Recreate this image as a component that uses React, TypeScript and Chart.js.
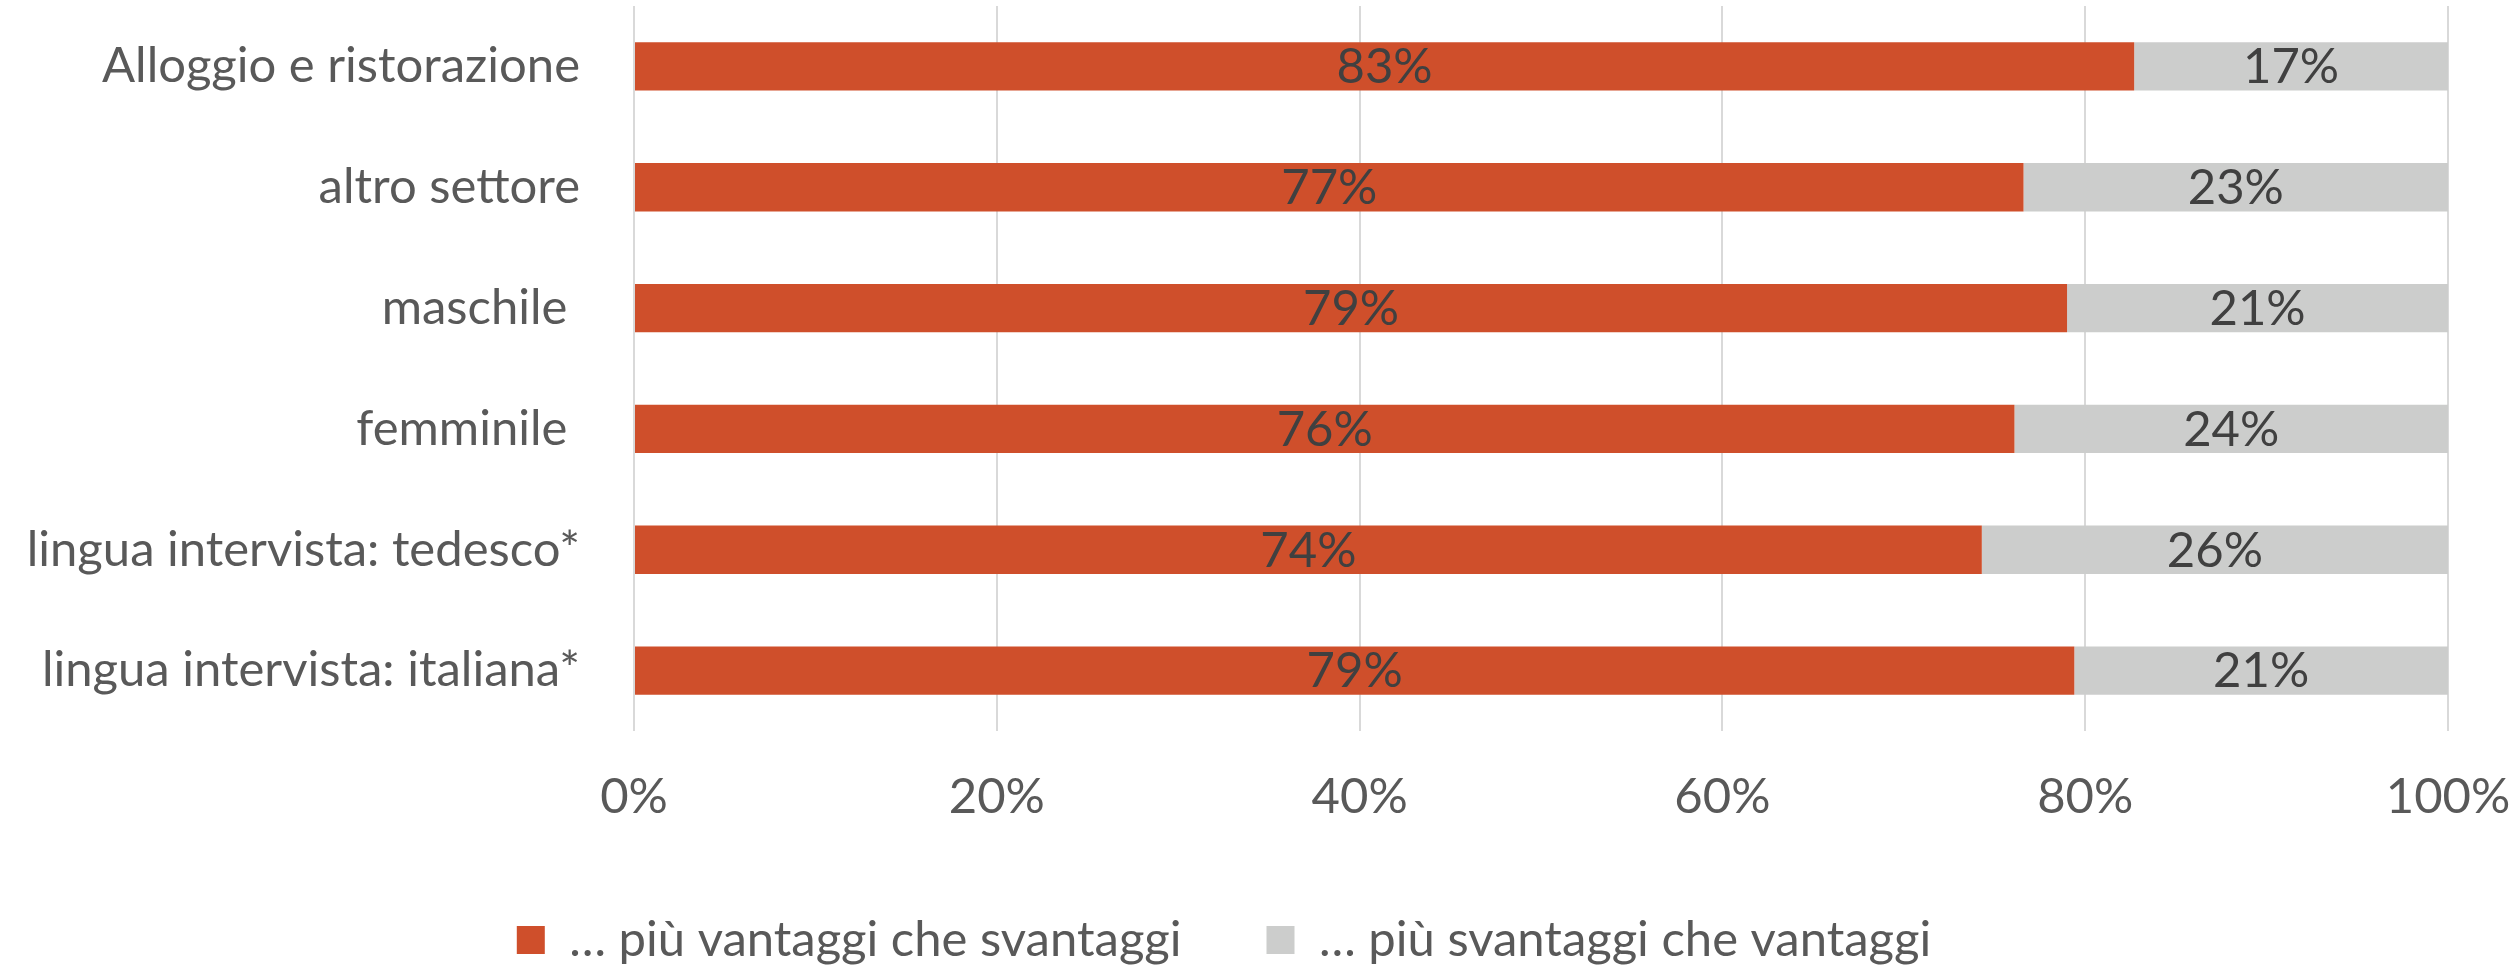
import React, { useEffect, useRef } from "react";
import { Chart, registerables } from "chart.js";

Chart.register(...registerables);

const categories = [
  "Alloggio e ristorazione",
  "altro settore",
  "maschile ",
  "femminile ",
  "lingua intervista: tedesco*",
  "lingua intervista: italiana*",
];
const piuVantaggi = [82.7, 76.6, 79.0, 76.1, 74.3, 79.4];
const piuSvantaggi = [17.3, 23.4, 21.0, 23.9, 25.7, 20.6];
const seriesNames = ["… più vantaggi che svantaggi", "… più svantaggi che vantaggi"];
const xTicks = [0, 20, 40, 60, 80, 100];

const RED = "#CF4F2B";
const GREY = "#CCCDCC";
const TEXT = "#595959";
const FONT = "Lato";
const FS = 49;

const W = 2512;
const H = 973;
const PLOT_TOP = 6;
const PLOT_BOTTOM = 731;
const PLOT_LEFT = 634;
const PLOT_RIGHT = 2448;
const LEGEND_PAD = 85;
const LEGEND_CENTER = 940;
const LEGEND_TOP = LEGEND_CENTER - LEGEND_PAD - FS / 2;
const LEGEND_H = FS + LEGEND_PAD + 10;
const BOTTOM_PAD = H - LEGEND_TOP - LEGEND_H;
const X_AXIS_H = LEGEND_TOP - PLOT_BOTTOM;

const valueLabels = {
  id: "valueLabels",
  afterDatasetsDraw(chart: any) {
    const ctx = chart.ctx;
    ctx.save();
    ctx.font = `${FS}px ${FONT}`;
    ctx.fillStyle = "#404040";
    ctx.textAlign = "center";
    ctx.textBaseline = "middle";
    chart.data.datasets.forEach((ds: any, di: number) => {
      const meta = chart.getDatasetMeta(di);
      meta.data.forEach((el: any, i: number) => {
        const { x, base, y } = el.getProps(["x", "base", "y"], true);
        ctx.fillText(Math.round(ds.data[i]) + "%", (x + base) / 2, y + 1);
      });
    });
    ctx.restore();
  },
};

export default function App() {
  const ref = useRef<HTMLCanvasElement>(null);
  useEffect(() => {
    if (!ref.current) return;
    const chart = new Chart(ref.current, {
      type: "bar",
      data: {
        labels: categories,
        datasets: [
          { label: seriesNames[0], data: piuVantaggi, backgroundColor: RED, borderWidth: 0, barPercentage: 0.4, categoryPercentage: 1 },
          { label: seriesNames[1], data: piuSvantaggi, backgroundColor: GREY, borderWidth: 0, barPercentage: 0.4, categoryPercentage: 1 },
        ],
      },
      options: {
        indexAxis: "y",
        animation: false,
        responsive: true,
        maintainAspectRatio: false,
        devicePixelRatio: 1,
        layout: { padding: { top: PLOT_TOP, right: W - PLOT_RIGHT, bottom: BOTTOM_PAD, left: 0 } },
        plugins: {
          tooltip: { enabled: false },
          legend: {
            position: "bottom",
            labels: {
              color: TEXT,
              font: { family: FONT, size: FS },
              boxWidth: 28,
              boxHeight: 28,
              padding: LEGEND_PAD,
            },
          },
        },
        scales: {
          x: {
            stacked: true,
            min: 0,
            max: 100,
            afterBuildTicks: (s: any) => {
              s.ticks = xTicks.map((v) => ({ value: v }));
            },
            ticks: {
              callback: (v: any) => v + "%",
              color: TEXT,
              font: { family: FONT, size: FS },
              padding: 37,
              maxRotation: 0,
            },
            grid: { color: "#D9D9D9", lineWidth: 2, drawTicks: false },
            border: { display: false },
            afterFit: (s: any) => {
              s.height = X_AXIS_H;
              s.paddingLeft = 0;
              s.paddingRight = 0;
            },
          },
          y: {
            stacked: true,
            ticks: { color: TEXT, font: { family: FONT, size: FS }, padding: 54 },
            grid: { display: false, drawTicks: false },
            border: { display: false },
            afterFit: (s: any) => {
              s.width = PLOT_LEFT;
              s.paddingTop = 0;
              s.paddingBottom = 0;
            },
          },
        },
      },
      plugins: [valueLabels],
    });
    return () => chart.destroy();
  }, []);
  return (
    <div style={{ position: "fixed", left: 0, top: 0, width: W, height: H, background: "#fff" }}>
      <canvas ref={ref} />
    </div>
  );
}
